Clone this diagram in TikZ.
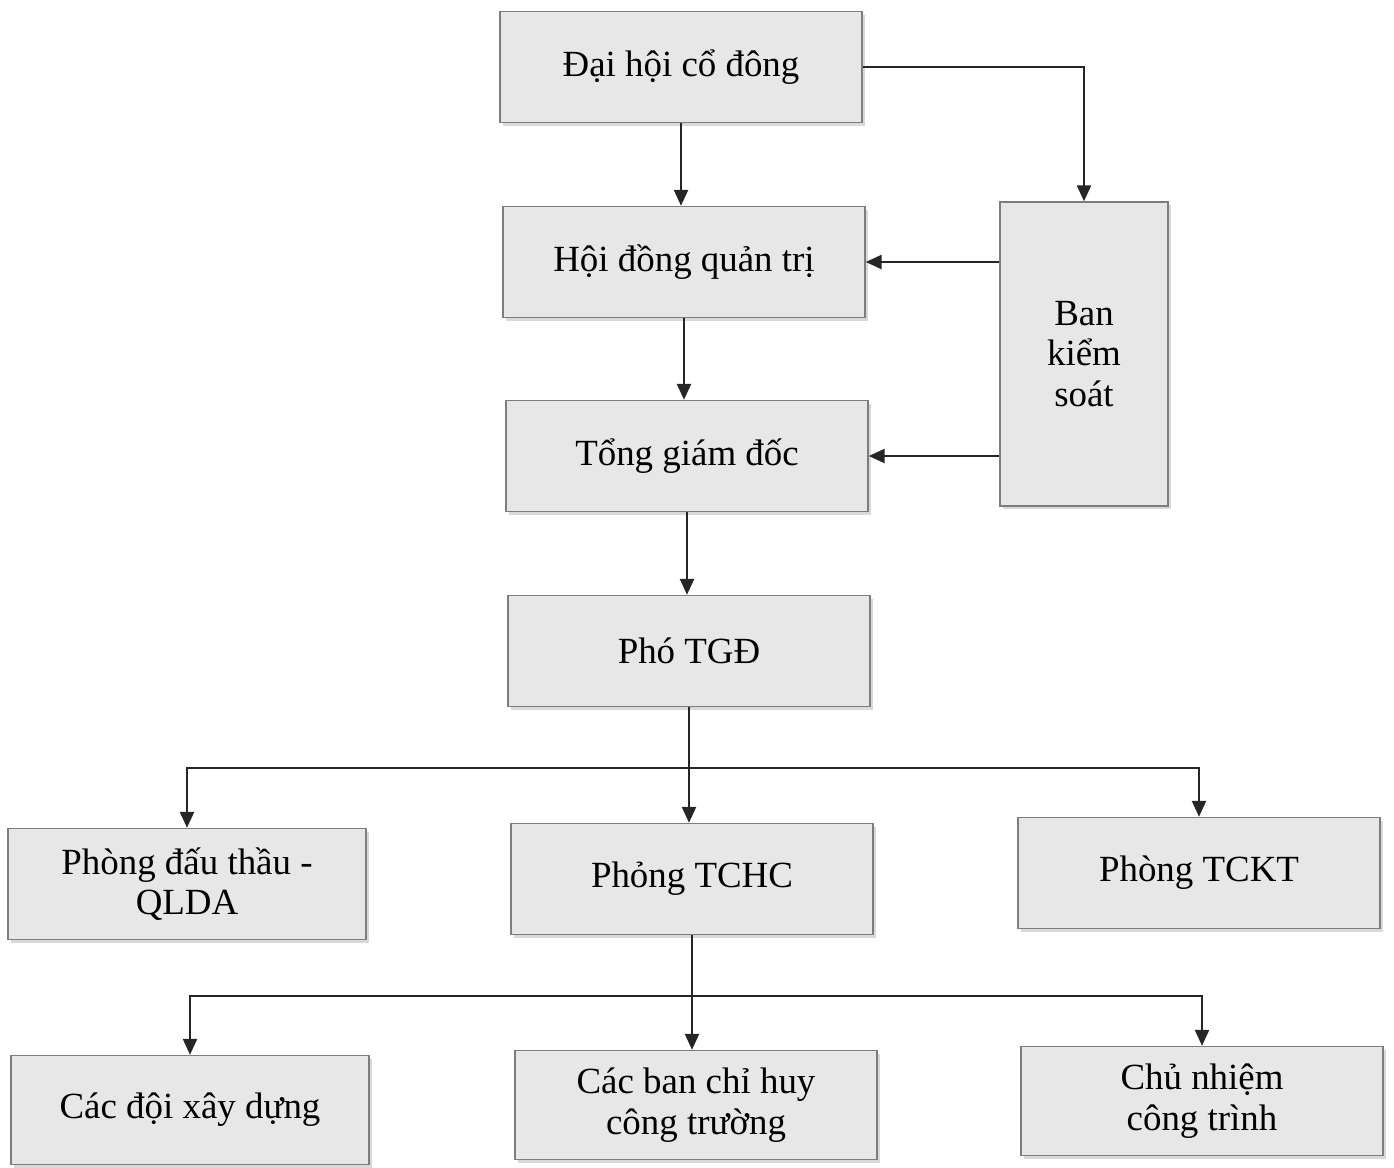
\documentclass[tikz,border=0pt]{standalone}
\usepackage{fontspec}
\setmainfont{Liberation Serif}
\usepackage{tikz}
\usetikzlibrary{arrows.meta, positioning, shadows}
\definecolor{boxgray}{RGB}{231,231,231}
\definecolor{edgegray}{RGB}{125,125,125}

\begin{document}
\begin{tikzpicture}[
      box/.style={rectangle, draw=edgegray, line width=0.8pt, fill=boxgray,
        drop shadow={shadow xshift=0.6mm, shadow yshift=-0.6mm, opacity=0.3},
        minimum width=7.24cm, minimum height=2.22cm, align=center,
        font=\fontsize{21}{23}\selectfont},
      arr/.style={-{Triangle[length=3.2mm, width=2.8mm]}, black!85, line width=1.4pt},
      ln/.style={black!85, line width=1.4pt}]
    \useasboundingbox (0,0) rectangle (27.88,-23.34);
    % upper part
    \node[box] (dhcd) at (13.62,-1.34) {Đại hội cổ đông};
    \node[box] (hdqt) at (13.68,-5.24) {Hội đồng quản trị};
    \node[box] (tgd) at (13.74,-9.12) {Tổng giám đốc};
    \node[box] (pho) at (13.78,-13.02) {Phó TGĐ};
    \node[box, minimum width=3.36cm, minimum height=6.08cm] (bks) at (21.68,-7.08) {Ban\\kiểm\\soát};
    % phong ban
    \node[box, minimum width=7.16cm] (pdt) at (3.74,-17.68) {Phòng đấu thầu -\\QLDA};
    \node[box] (tchc) at (13.84,-17.58) {Phỏng TCHC};
    \node[box] (tckt) at (23.98,-17.46) {Phòng TCKT};
    % cap duoi
    \node[box, minimum width=7.16cm, minimum height=2.18cm] (doi) at (3.80,-22.2) {Các đội xây dựng};
    \node[box, minimum height=2.18cm] (bch) at (13.92,-22.10) {Các ban chỉ huy\\công trường};
    \node[box, minimum height=2.18cm] (cn) at (24.04,-22.02) {Chủ nhiệm\\công trình};
    \coordinate (br1) at (13.78,-15.36);
    \coordinate (br2) at (13.90,-19.92);
    \draw[arr] (dhcd.south) -- (dhcd.south |- hdqt.north);
    \draw[arr] (dhcd.east) -| (bks.north);
    \draw[arr] (hdqt.south) -- (hdqt.south |- tgd.north);
    \draw[arr] (bks.west |- hdqt.east) -- (hdqt.east);
    \draw[arr] (tgd.south) -- (tgd.south |- pho.north);
    \draw[arr] (bks.west |- tgd.east) -- (tgd.east);
    \draw[arr] (pho.south) -- (pho.south |- tchc.north);
    \draw[arr] (br1) -| (pdt.north);
    \draw[arr] (br1) -| (tckt.north);
    \draw[arr] (tchc.south) -- (tchc.south |- bch.north);
    \draw[arr] (br2) -| (doi.north);
    \draw[arr] (br2) -| (cn.north);
  \end{tikzpicture}
\end{document}
